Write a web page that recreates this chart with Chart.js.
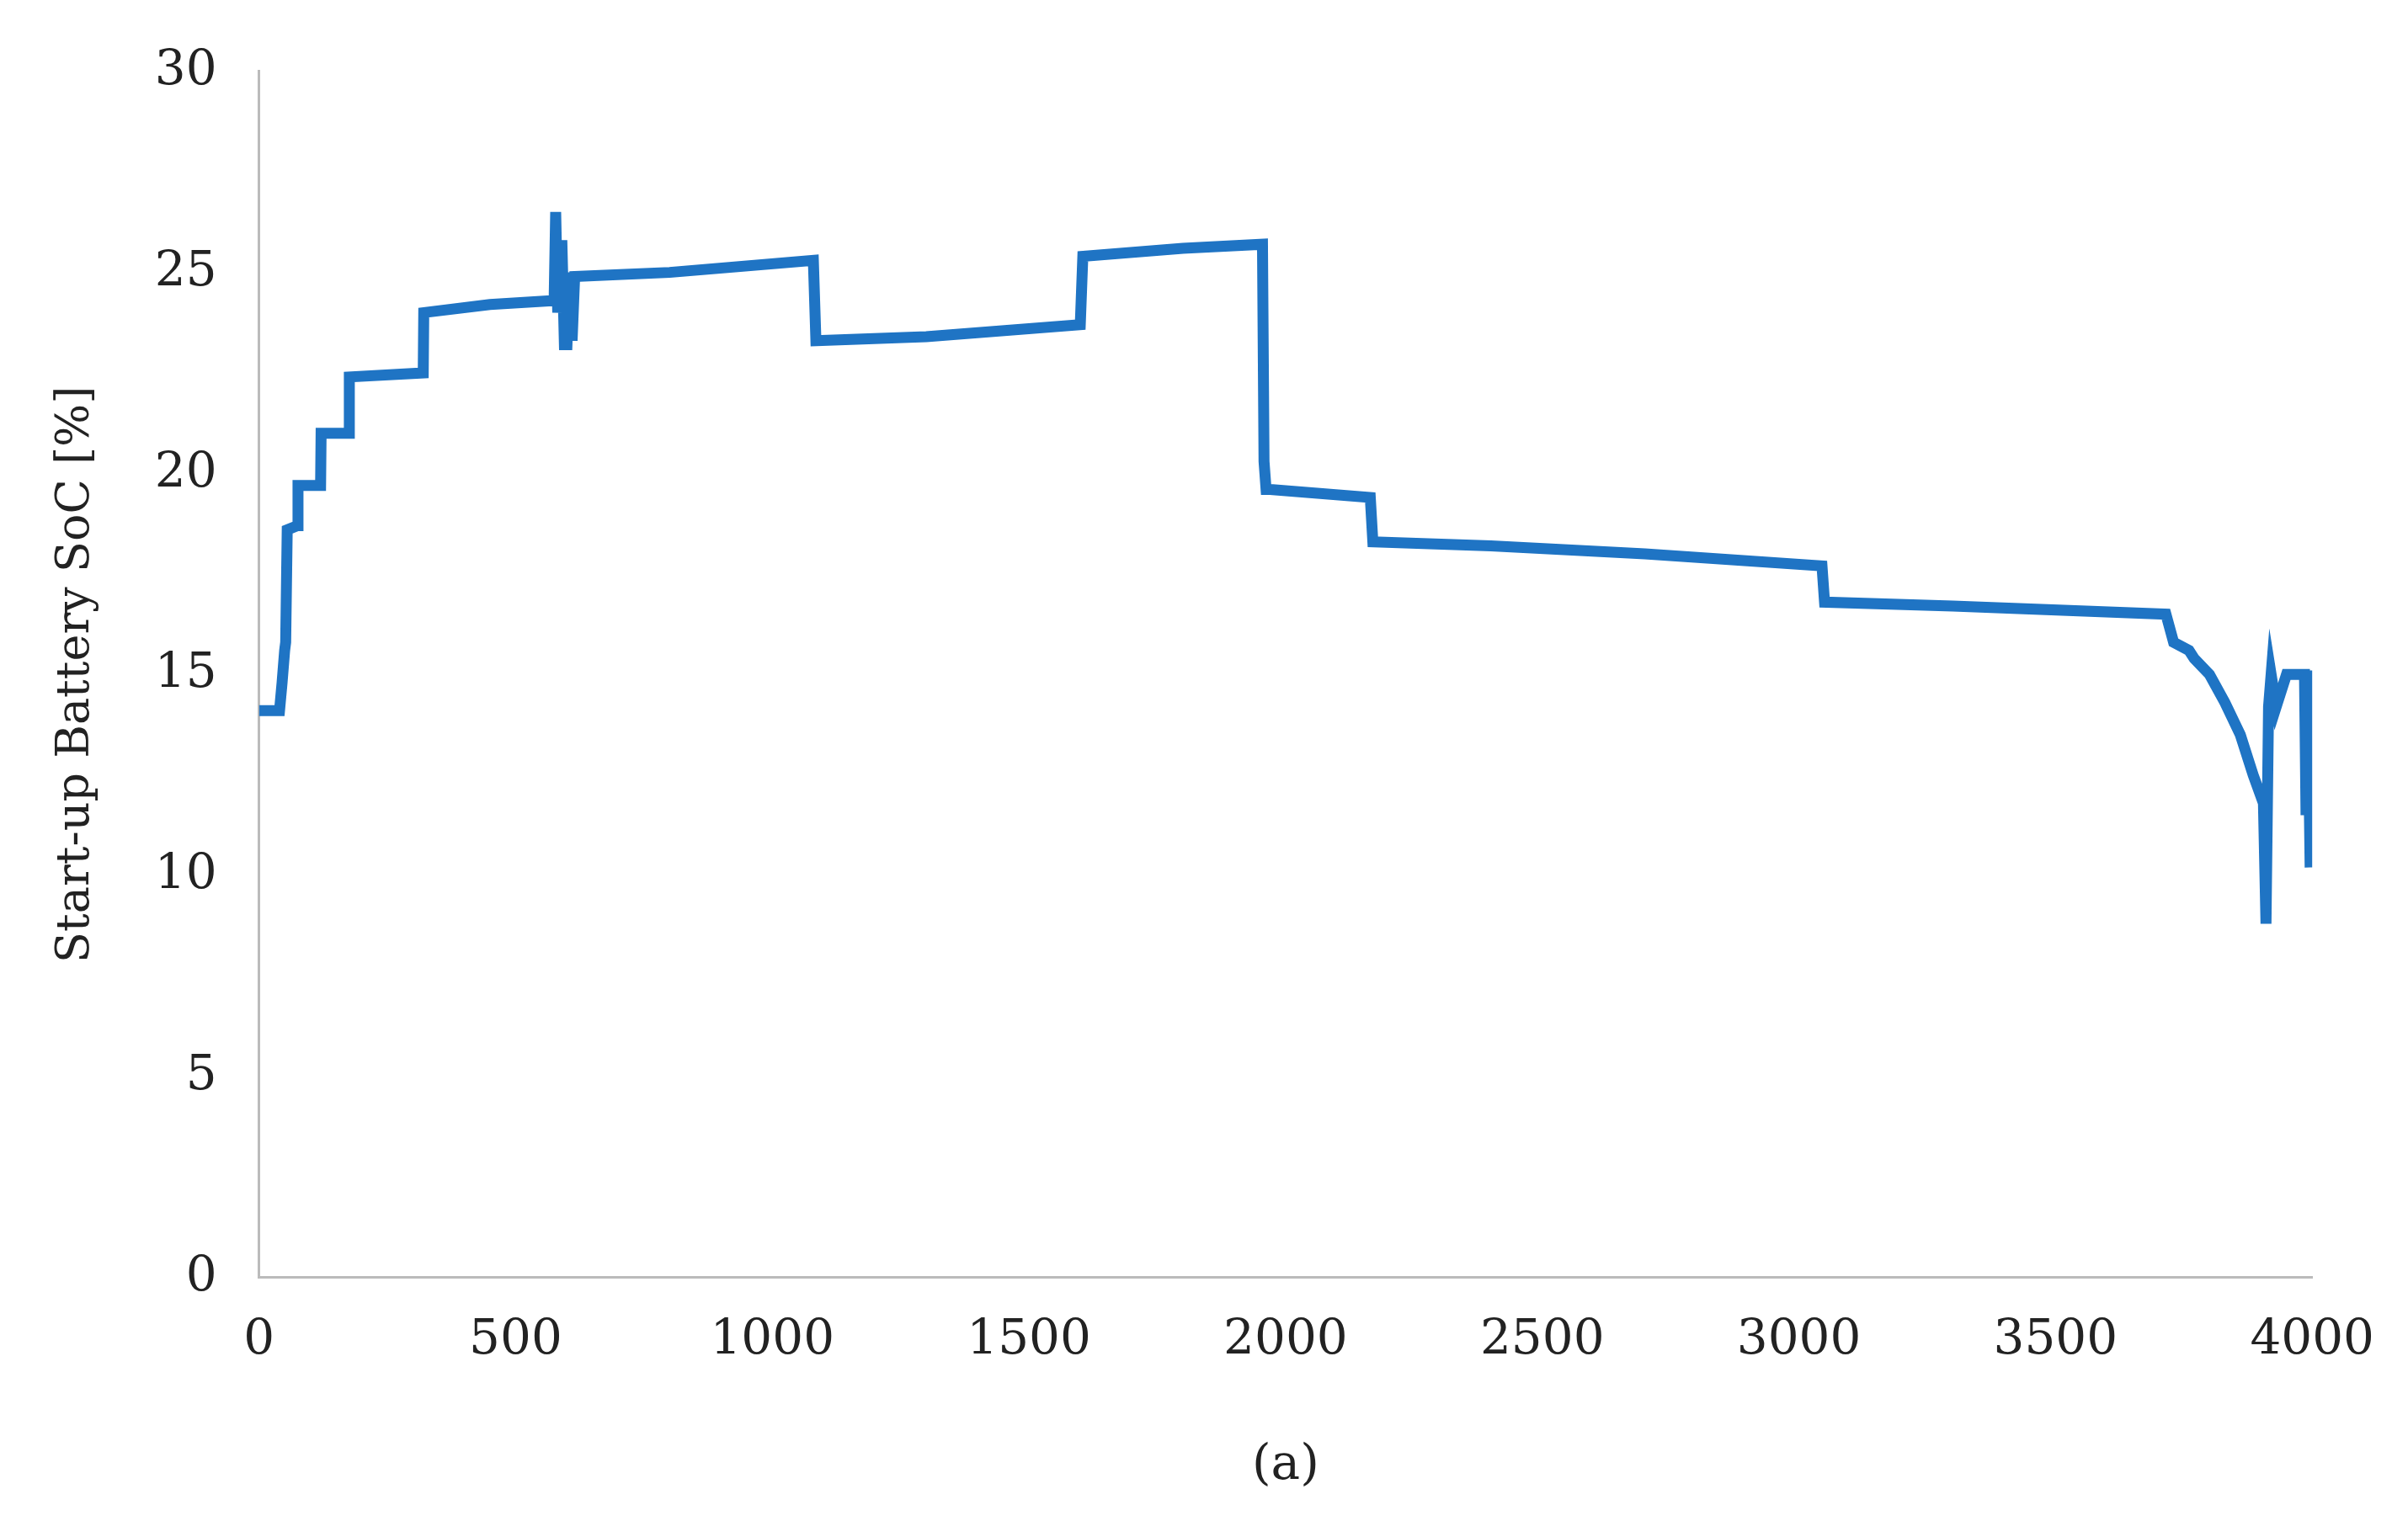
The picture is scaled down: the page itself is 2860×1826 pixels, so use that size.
<!DOCTYPE html>
<html>
<head>
<meta charset="utf-8">
<script src="https://cdn.jsdelivr.net/npm/chart.js@4/dist/chart.umd.min.js"></script>
<style>
  html, body { margin: 0; padding: 0; background: #fff; }
  #wrap { width: 2860px; height: 1826px; }
</style>
</head>
<body>
<div id="wrap"><canvas id="c"></canvas></div>
<script>
// time steps and start-up battery state of charge
var timeValues = [0, 40, 45, 50, 52, 55, 75, 76, 120, 121, 175, 176, 320, 321, 450, 575, 578, 582, 590, 595, 600, 605, 610, 615,
    800, 1080, 1085, 1300, 1600, 1605, 1800, 1955, 1958, 1962, 1970, 2165, 2170, 2400, 2700, 3045, 3050, 3300, 3715,
    3730, 3760, 3770, 3800, 3830, 3860, 3885, 3905, 3910, 3915, 3920, 3930, 3950, 3985, 3988, 3992, 3996, 3999, 4000];
var socValues = [14.1, 14.1, 14.8, 15.6, 15.8, 18.6, 18.7, 19.7, 19.7, 21.0, 21.0, 22.4, 22.5, 24.0, 24.2, 24.3, 26.5, 24.0, 25.8, 23.2, 23.2, 25.0, 23.3, 24.9,
    25.0, 25.3, 23.3, 23.4, 23.7, 25.4, 25.6, 25.7, 20.3, 19.6, 19.6, 19.4, 18.3, 18.2, 18.0, 17.7, 16.8, 16.7, 16.5,
    15.8, 15.6, 15.4, 15.0, 14.3, 13.5, 12.5, 11.8, 8.8, 14.2, 15.0, 14.2, 15.0, 15.0, 11.5, 14.0, 10.2, 15.1, 11.0];
var xTickMax = 4000;
var yTickMax = 30;

var points = timeValues.map(function (t, i) {
    return { x: t, y: socValues[i] };
});

var serif = '"DejaVu Serif", "Liberation Serif", serif';

new Chart(document.getElementById('c').getContext('2d'), {
    type: 'line',
    data: {
        datasets: [{
            data: points,
            borderColor: '#1f74c4',
            borderWidth: 13,
            pointRadius: 0,
            tension: 0,
            borderJoinStyle: 'miter'
        }]
    },
    options: {
        responsive: true,
        maintainAspectRatio: false,
        animation: false,
        layout: { padding: { left: 55, right: 100, top: 50, bottom: 45 } },
        plugins: { legend: { display: false }, tooltip: { enabled: false } },
        scales: {
            x: {
                type: 'linear',
                min: 0,
                max: xTickMax,
                ticks: {
                    stepSize: 500, color: '#222', font: { family: serif, size: 58 }, padding: 40,
                    callback: function (v) { return String(v); }
                },
                grid: { display: false, drawTicks: false },
                border: { color: '#bbb', width: 3 },
                title: { display: true, text: '(a)', color: '#222', font: { family: serif, size: 58 }, padding: { top: 40 } }
            },
            y: {
                min: 0,
                max: yTickMax,
                ticks: { stepSize: 5, color: '#222', font: { family: serif, size: 58 }, padding: 50 },
                grid: { display: false, drawTicks: false },
                border: { color: '#bbb', width: 3 },
                title: { display: true, text: 'Start-up Battery SoC [%]', color: '#222', font: { family: serif, size: 54 }, padding: { bottom: 10 } }
            }
        }
    }
});
</script>
</body>
</html>
